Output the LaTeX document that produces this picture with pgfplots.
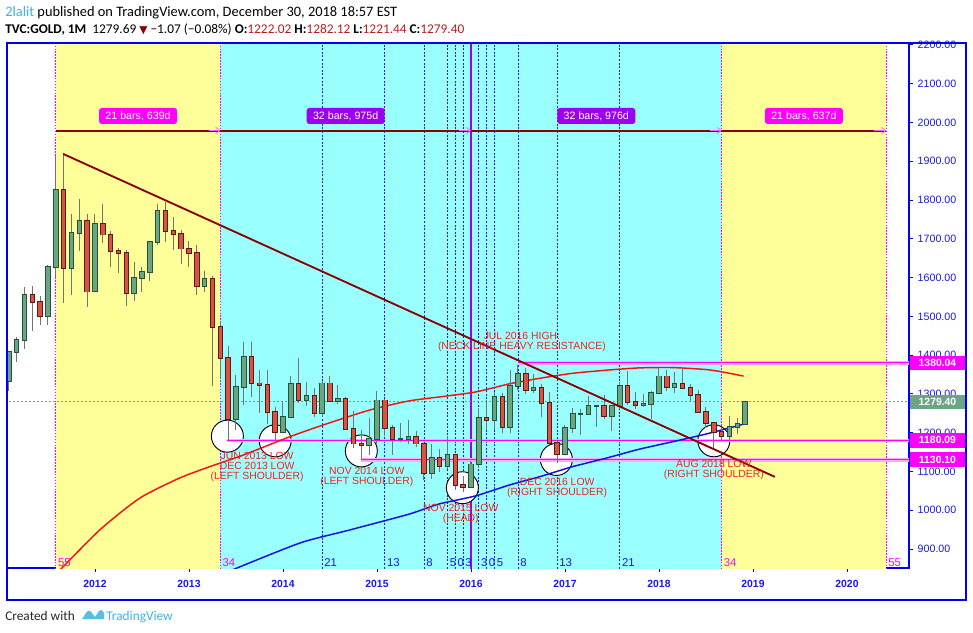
\documentclass[border=0pt]{standalone}
\usepackage{pgfplots}
\pgfplotsset{compat=1.18}
\usepackage{pgfplotstable}
\usepackage{fontspec}
\setmainfont{Liberation Sans}
\newfontfamily\carlito{Carlito}
\newfontfamily\dejavu{DejaVu Sans}
\usetikzlibrary{arrows.meta}

\definecolor{bgy}{HTML}{FFFF99}
\definecolor{bgc}{HTML}{99FFFF}
\definecolor{cgf}{HTML}{6BA583}
\definecolor{cgb}{HTML}{225437}
\definecolor{crf}{HTML}{D75442}
\definecolor{crb}{HTML}{5B1A13}
\definecolor{wick}{HTML}{737375}
\definecolor{tvmag}{HTML}{FF00FF}
\definecolor{tvpur}{HTML}{9C00F0}
\definecolor{tvdr}{HTML}{8B0000}
\definecolor{tvred}{HTML}{F22020}
\definecolor{tvblue}{HTML}{1818E0}
\definecolor{axblue}{HTML}{0000F0}
\definecolor{mared}{HTML}{EE1515}
\definecolor{mablue}{HTML}{1010E0}
\definecolor{hdrblue}{HTML}{3BB3E4}
\definecolor{hdrred}{HTML}{B71C1C}
\definecolor{hdrdark}{HTML}{8B0000}

% t = months since Jan 2012
\pgfplotstableread{
t O H L C
-11 1332 1411 1308 1409
-10 1409 1447 1381 1439
-9 1439 1575 1417 1556
-8 1556 1577 1462 1536
-7 1536 1553 1478 1500
-6 1500 1632 1478 1628
-5 1628 1913 1600 1826
-4 1826 1921 1534 1624
-3 1624 1764 1555 1714
-2 1714 1803 1668 1746
-1 1746 1764 1523 1564
0 1565 1764 1563 1738
1 1738 1791 1688 1711
2 1711 1720 1627 1669
3 1669 1677 1613 1664
4 1664 1670 1527 1560
5 1560 1641 1540 1598
6 1598 1628 1564 1615
7 1615 1694 1590 1691
8 1691 1790 1683 1772
9 1772 1796 1692 1720
10 1720 1755 1672 1712
11 1712 1723 1635 1675
12 1675 1694 1626 1663
13 1663 1684 1554 1578
14 1578 1617 1562 1596
15 1596 1605 1321 1472
16 1472 1487 1338 1393
17 1393 1424 1180 1234
18 1234 1348 1207 1318
19 1318 1434 1271 1396
20 1396 1434 1292 1327
21 1327 1361 1251 1323
22 1323 1362 1222 1253
23 1253 1267 1182 1202
24 1202 1280 1202 1240
25 1240 1345 1240 1326
26 1326 1392 1277 1284
27 1284 1331 1268 1295
28 1295 1315 1240 1250
29 1250 1332 1240 1327
30 1327 1345 1282 1282
31 1282 1322 1273 1287
32 1287 1293 1206 1210
33 1210 1255 1161 1172
34 1172 1208 1131 1167
35 1167 1238 1142 1184
36 1184 1307 1167 1283
37 1283 1287 1191 1213
38 1213 1219 1142 1183
39 1183 1224 1175 1183
40 1183 1232 1170 1190
41 1190 1205 1162 1172
42 1172 1174 1077 1095
43 1095 1170 1080 1134
44 1134 1157 1098 1115
45 1115 1191 1106 1142
46 1142 1142 1052 1065
47 1065 1088 1046 1061
48 1061 1128 1061 1118
49 1118 1263 1110 1238
50 1238 1283 1207 1233
51 1233 1304 1208 1293
52 1293 1303 1200 1215
53 1215 1362 1200 1321
54 1321 1375 1310 1351
55 1351 1366 1301 1309
56 1309 1352 1302 1316
57 1316 1326 1241 1277
58 1277 1306 1171 1173
59 1173 1180 1123 1146
60 1146 1220 1146 1211
61 1211 1264 1200 1249
62 1249 1262 1195 1249
63 1249 1295 1245 1268
64 1268 1270 1214 1268
65 1268 1296 1236 1242
66 1242 1270 1205 1268
67 1268 1331 1262 1321
68 1321 1358 1272 1280
69 1280 1306 1261 1271
70 1271 1299 1265 1275
71 1275 1307 1236 1303
72 1303 1366 1302 1345
73 1345 1362 1307 1318
74 1318 1356 1303 1325
75 1325 1366 1315 1316
76 1316 1326 1282 1298
77 1298 1309 1250 1253
78 1253 1266 1211 1224
79 1224 1224 1160 1201
80 1201 1214 1180 1192
81 1192 1243 1182 1215
82 1215 1237 1196 1222
83 1222.02 1282.12 1221.44 1279.40
}\gold

\begin{document}
\begin{tikzpicture}
\begin{scope}[x=0.75pt,y=0.75pt]
\path[use as bounding box] (0,0) rectangle (973,632);
\end{scope}
\begin{axis}[
  at={(5.25pt,48pt)}, anchor=south west,
  scale only axis, width=676.5pt, height=393.75pt,
  xmin=-11.234, xmax=103.92, ymin=851, ymax=2205,
  clip mode=individual,
  axis line style={draw=axblue, line width=0.9pt},
  tick align=outside, major tick length=3pt,
  xtick pos=left, ytick pos=right,
  every tick/.style={draw=axblue, line width=0.7pt},
  xtick={0,12,24,36,48,60,72,84,96},
  xticklabels={2012,2013,2014,2015,2016,2017,2018,2019,2020},
  xticklabel style={text=tvblue, font=\bfseries\fontsize{7.8}{7.8}\selectfont, yshift=-2.5pt},
  ytick={900,1000,...,2200},
  yticklabels={900.00,1000.00,1100.00,1200.00,1300.00,1400.00,1500.00,1600.00,1700.00,1800.00,1900.00,2000.00,2100.00,2200.00},
  yticklabel pos=right,
  yticklabel style={text=tvblue, font=\fontsize{8}{8}\selectfont},
  candle/.style={forget plot, only marks, mark size=0pt, mark options={draw=none, fill=none}},
]
% background zones
\addplot[forget plot, fill=bgy, draw=none] coordinates {(-5,840) (-5,2220) (16,2220) (16,840)};
\addplot[forget plot, fill=bgc, draw=none] coordinates {(16,840) (16,2220) (80,2220) (80,840)};
\addplot[forget plot, fill=bgy, draw=none] coordinates {(80,840) (80,2220) (101,2220) (101,840)};
% fibonacci time zone lines
\pgfplotsinvokeforeach{29,37,42,45,46,47,49,50,51,54,59,67}{
  \addplot[forget plot, tvblue, line width=0.6pt, dash pattern=on 1.5pt off 1.2pt] coordinates {(#1,840) (#1,2220)};
}
\pgfplotsinvokeforeach{-5,16,80,101}{
  \addplot[forget plot, tvmag, line width=0.9pt, dash pattern=on 1.2pt off 1pt] coordinates {(#1,840) (#1,2220)};
}
\addplot[forget plot, tvpur, line width=0.8pt] coordinates {(48,840) (48,2220)};
% last price line
\addplot[forget plot, cgf, line width=0.6pt, dash pattern=on 1.5pt off 1.5pt] coordinates {(-12,1279.40) (105,1279.40)};
% circles
\addplot[forget plot, only marks, mark=*, mark size=12pt, mark options={fill=white, draw=black, line width=0.7pt}] coordinates {(16.9,1191) (23.0,1179) (34.0,1153) (46.9,1058) (58.9,1131) (79.0,1179)};
% horizontal levels
\addplot[forget plot, tvmag!35, line width=2.6pt] coordinates {(54,1380.04) (105,1380.04)};
\addplot[forget plot, tvmag, line width=0.8pt] coordinates {(54,1380.04) (105,1380.04)};
\addplot[forget plot, tvmag!35, line width=2.6pt] coordinates {(16.8,1180.09) (105,1180.09)};
\addplot[forget plot, tvmag, line width=0.8pt] coordinates {(16.8,1180.09) (105,1180.09)};
\addplot[forget plot, tvmag!35, line width=2.6pt] coordinates {(34,1130.10) (105,1130.10)};
\addplot[forget plot, tvmag, line width=0.8pt] coordinates {(34,1130.10) (105,1130.10)};
% moving averages
\addplot[forget plot, mared, line width=1.1pt, smooth, tension=0.4] coordinates {(-4.6,843) (0.6,949) (5.7,1031) (10.8,1083) (14.6,1112) (18.9,1142) (24.8,1189) (29,1219) (35,1258) (40.1,1282) (44.3,1293) (48.6,1305) (52.9,1326) (56.7,1340) (60.9,1353) (65.2,1361) (69.4,1367) (73.6,1368) (77.9,1363) (80,1357) (82.8,1346)};
\addplot[forget plot, mablue, line width=1.1pt, smooth, tension=0.4] coordinates {(16.8,840) (26.1,915) (32.5,949) (40.1,990) (43.9,1016) (48.6,1037) (52.9,1065) (56.7,1086) (60.9,1112) (65.2,1134) (69.4,1157) (73.6,1176) (77.9,1196) (82.8,1222)};
% candles: wicks
\addplot[candle, error bars/.cd, y dir=minus, y explicit, error mark=none, error bar style={draw=wick, line width=0.75pt}]
  table[x=t, y=H, y error minus expr=\thisrow{H}-\thisrow{L}] {\gold};
% green bodies
\addplot[candle, restrict expr to domain={\thisrow{C}-\thisrow{O}}{0:10000}, error bars/.cd, y dir=minus, y explicit, error mark=none, error bar style={draw=cgb, line width=4.2pt}]
  table[x=t, y expr={max(\thisrow{O},\thisrow{C})+2.4}, y error minus expr={abs(\thisrow{C}-\thisrow{O})+4.8}] {\gold};
\addplot[candle, restrict expr to domain={\thisrow{C}-\thisrow{O}}{0:10000}, error bars/.cd, y dir=minus, y explicit, error mark=none, error bar style={draw=cgf, line width=2.7pt}]
  table[x=t, y expr={max(\thisrow{O},\thisrow{C})}, y error minus expr={abs(\thisrow{C}-\thisrow{O})}] {\gold};
% red bodies
\addplot[candle, restrict expr to domain={\thisrow{O}-\thisrow{C}}{0.001:10000}, error bars/.cd, y dir=minus, y explicit, error mark=none, error bar style={draw=crb, line width=4.2pt}]
  table[x=t, y expr={max(\thisrow{O},\thisrow{C})+2.4}, y error minus expr={abs(\thisrow{C}-\thisrow{O})+4.8}] {\gold};
\addplot[candle, restrict expr to domain={\thisrow{O}-\thisrow{C}}{0.001:10000}, error bars/.cd, y dir=minus, y explicit, error mark=none, error bar style={draw=crf, line width=2.7pt}]
  table[x=t, y expr={max(\thisrow{O},\thisrow{C})}, y error minus expr={abs(\thisrow{C}-\thisrow{O})}] {\gold};
% trend line
\addplot[forget plot, tvdr, line width=1.4pt] coordinates {(-4.05,1918.8) (86.8,1086)};
% date range arrows
\addplot[forget plot, tvdr, line width=1.4pt] coordinates {(-5,1979) (101,1979)};
\pgfplotsinvokeforeach{16,48,80,101}{
  \addplot[forget plot, tvmag!60, line width=0.6pt, -{Straight Barb[length=3pt,width=5pt]}] coordinates {(#1-1.5,1979) (#1,1979)};
}
% range labels
\node[fill=tvmag, text=white, rounded corners=2pt, inner sep=0pt, minimum width=58.5pt, minimum height=12pt, font=\fontsize{8}{8}\selectfont] at (axis cs:5.5,2016.8) {21 bars, 639d};
\node[fill=tvpur, text=white, rounded corners=2pt, inner sep=0pt, minimum width=58.5pt, minimum height=12pt, font=\fontsize{8}{8}\selectfont] at (axis cs:32,2016.8) {32 bars, 975d};
\node[fill=tvpur, text=white, rounded corners=2pt, inner sep=0pt, minimum width=58.5pt, minimum height=12pt, font=\fontsize{8}{8}\selectfont] at (axis cs:64,2016.8) {32 bars, 976d};
\node[fill=tvmag, text=white, rounded corners=2pt, inner sep=0pt, minimum width=58.5pt, minimum height=12pt, font=\fontsize{8}{8}\selectfont] at (axis cs:90.5,2016.8) {21 bars, 637d};
% annotations
\tikzset{ann/.style={text=tvred, align=center, inner sep=0pt, font=\fontsize{7.8}{7.5}\selectfont}}
\node[ann] at (axis cs:20.7,1112) {JUN 2013 LOW\\DEC 2013 LOW\\(LEFT SHOULDER)};
\node[ann] at (axis cs:34.7,1086.5) {NOV 2014 LOW\\(LEFT SHOULDER)};
\node[ann] at (axis cs:46.7,991) {NOV 2015 LOW\\(HEAD)};
\node[ann] at (axis cs:59.0,1058) {DEC 2016 LOW\\(RIGHT SHOULDER)};
\node[ann] at (axis cs:79.0,1103.8) {AUG 2018 LOW\\(RIGHT SHOULDER)};
\node[ann] at (axis cs:54.5,1433) {JUL 2016 HIGH:\\(NECK LINE HEAVY RESISTANCE)};
% fib numbers
\tikzset{fb/.style={anchor=west, inner sep=0pt, xshift=1.5pt, font=\fontsize{8.5}{8.5}\selectfont}}
\node[fb, text=tvmag] at (axis cs:-5,866) {55};
\node[fb, text=tvmag] at (axis cs:16,866) {34};
\node[fb, text=tvblue] at (axis cs:29,866) {21};
\node[fb, text=tvblue] at (axis cs:37,866) {13};
\node[fb, text=tvblue] at (axis cs:42,866) {8};
\node[fb, text=tvblue] at (axis cs:45,866) {5};
\node[fb, text=tvblue] at (axis cs:46,866) {0};
\node[fb, text=tvblue] at (axis cs:47,866) {3};
\node[fb, text=tvblue] at (axis cs:49,866) {3};
\node[fb, text=tvblue] at (axis cs:50,866) {0};
\node[fb, text=tvblue] at (axis cs:51,866) {5};
\node[fb, text=tvblue] at (axis cs:54,866) {8};
\node[fb, text=tvblue] at (axis cs:59,866) {13};
\node[fb, text=tvblue] at (axis cs:67,866) {21};
\node[fb, text=tvmag] at (axis cs:80,866) {34};
\node[fb, text=tvmag] at (axis cs:101,866) {55};
% anchors for price boxes
\coordinate (pa) at (axis cs:103.92,1380.04);
\coordinate (pb) at (axis cs:103.92,1279.40);
\coordinate (pc) at (axis cs:103.92,1180.09);
\coordinate (pd) at (axis cs:103.92,1130.10);
\end{axis}
\tikzset{pbox/.style={anchor=west, inner sep=0pt, minimum width=41.5pt, minimum height=11pt, text=white, font=\bfseries\fontsize{7.8}{7.8}\selectfont}}
\node[pbox, fill=tvmag] at ([xshift=0.4pt]pa) {1380.04};
\node[pbox, fill=cgf] at ([xshift=0.4pt]pb) {1279.40};
\node[pbox, fill=tvmag] at ([xshift=0.4pt]pc) {1180.09};
\node[pbox, fill=tvmag] at ([xshift=0.4pt]pd) {1130.10};
\begin{scope}[x=0.75pt,y=0.75pt]
\draw[axblue, line width=0.9pt] (7,589) rectangle (966,32);
\node[anchor=base west, inner sep=0pt] at (5,615) {\carlito\fontsize{10.8}{12}\selectfont\textcolor{hdrblue}{2lalit} published on TradingView.com, December 30, 2018 18:57 EST};
\node[anchor=base west, inner sep=0pt] at (5,598) {\carlito\fontsize{10}{12}\selectfont\textbf{TVC:GOLD, 1M}\ \ 1279.69 {\dejavu\fontsize{8}{8}\selectfont\textcolor{hdrdark}{▼}} −1.07 (−0.08\%) \textbf{O:}\textcolor{hdrred}{1222.02} \textbf{H:}\textcolor{hdrred}{1282.12} \textbf{L:}\textcolor{hdrred}{1221.44} \textbf{C:}\textcolor{hdrred}{1279.40}};
\node[anchor=base west, inner sep=0pt] at (5,12) {\carlito\fontsize{10}{12}\selectfont\textcolor{black!85}{Created with}};
\fill[hdrblue!85] (82,13) -- (86,19) .. controls (88,22) and (90,22) .. (92,19) -- (95,15) -- (99,21) .. controls (101,23) and (104,21) .. (104,18) -- (104,13) -- cycle;
\node[anchor=base west, inner sep=0pt] at (106,12) {\carlito\fontsize{10}{12}\selectfont\textcolor{hdrblue}{TradingView}};
\end{scope}
\end{tikzpicture}
\end{document}
